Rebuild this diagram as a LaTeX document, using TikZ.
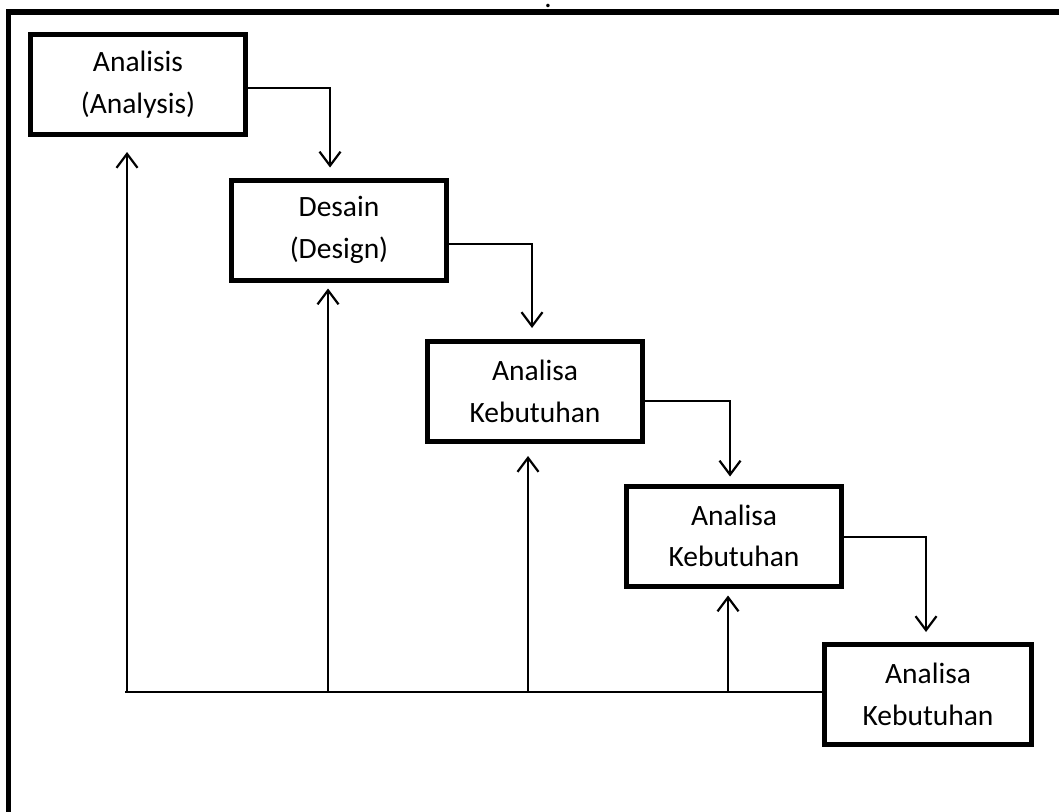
\documentclass[tikz,border=0pt]{standalone}
\usepackage{fontspec}
\setmainfont{Carlito}
\usetikzlibrary{arrows.meta,calc,positioning}

\begin{document}
\begin{tikzpicture}[x=1pt,y=-1pt,
    tahap/.style={draw, line width=5pt, minimum width=215pt, minimum height=100pt,
        align=center, inner sep=0pt, font=\fontsize{29.5}{41.5}\selectfont},
    panah/.style={line width=2.2pt, -{Straight Barb[length=14pt,width=21pt,line width=2.2pt]}},
    garis/.style={line width=2.2pt}]
    \useasboundingbox (0,0) rectangle (1059,811);

    % Bingkai luar
    \draw[line width=5.5pt] (8.5,1100) -- (8.5,12) -- (1100,12);
    \node[anchor=base, font=\fontsize{29}{40}\selectfont, inner sep=0pt] (titik) at (548,7) {.};

    % Kotak tahapan
    \node[tahap] (b1) at (138,84.5) {Analisis\\(Analysis)};
    \node[tahap] (b2) at (339,230) {Desain\\(Design)};
    \node[tahap] (b3) at (535,391.5) {Analisa\\Kebutuhan};
    \node[tahap] (b4) at (734,536) {Analisa\\Kebutuhan};
    \node[tahap, minimum width=207pt] (b5) at (928,694.5) {Analisa\\Kebutuhan};

    % Panah turun antar tahap
    \draw[panah] ([yshift=-3.5pt]b1.east) -| ([xshift=-9pt,yshift=10pt]b2.north);
    \draw[panah] ([yshift=-14pt]b2.east) -| ([xshift=-3pt,yshift=11pt]b3.north);
    \draw[panah] ([yshift=-9.5pt]b3.east) -| ([xshift=-4pt,yshift=7pt]b4.north);
    \draw[panah] ([yshift=-1pt]b4.east) -| ([xshift=-2pt,yshift=10pt]b5.north);

    % Garis balik (umpan balik)
    \coordinate (dasar) at (125,692);
    \draw[garis] (dasar) -- (dasar -| b5.west);
    \draw[panah] ([xshift=-11pt]b1.south |- dasar) -- ([xshift=-11pt,yshift=-15pt]b1.south);
    \draw[panah] ([xshift=-11pt]b2.south |- dasar) -- ([xshift=-11pt,yshift=-6pt]b2.south);
    \draw[panah] ([xshift=-7pt]b3.south |- dasar) -- ([xshift=-7pt,yshift=-12pt]b3.south);
    \draw[panah] ([xshift=-6pt]b4.south |- dasar) -- ([xshift=-6pt,yshift=-7pt]b4.south);
\end{tikzpicture}
\end{document}
